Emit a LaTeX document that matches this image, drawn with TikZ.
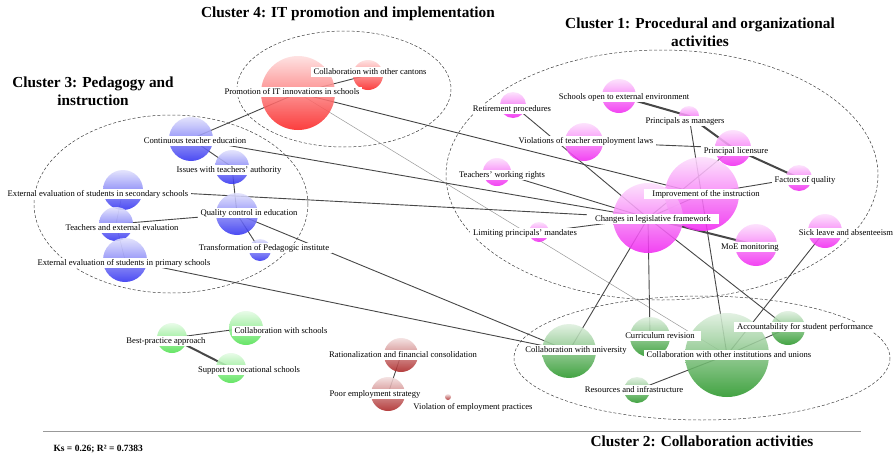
\documentclass[tikz,border=0pt]{standalone}
\usepackage{fontspec}
\setmainfont{Liberation Serif}
\usetikzlibrary{backgrounds}
\newcommand{\lblfont}{\fontsize{8.6}{10}\selectfont}
\newcommand{\ttlfont}{\fontsize{15.3}{18}\selectfont\bfseries}
\definecolor{pinkc}{RGB}{240,40,240}
\definecolor{bluec}{RGB}{50,50,240}
\definecolor{redc}{RGB}{250,35,35}
\definecolor{greenc}{RGB}{40,150,40}
\definecolor{lgreenc}{RGB}{80,225,80}
\definecolor{brownc}{RGB}{170,35,35}

\begin{document}
\begin{tikzpicture}[x=1pt, y=-1pt,
    ball/.style={circle, inner sep=0pt, fill opacity=0.88, shading=axis, shading angle=45,
      top color=#1!15!white, bottom color=#1},
    lbl/.style={fill=white, inner xsep=3pt, inner ysep=1pt, text height=6.5pt, text depth=1.8pt, font=\lblfont},
    ttl/.style={font=\ttlfont, align=center},
    link/.style={draw=black!72, line width=0.9pt},
    heavylink/.style={draw=black!72, line width=2pt},
    faintlink/.style={draw=black!40, line width=0.5pt},
    cluster/.style={draw=black!75, densely dashed, line width=0.5pt}]
  \useasboundingbox (0,0) rectangle (895,453);

  % cluster 4
  \node (promo) at (298,93) [ball=redc, minimum size=74pt] {};
  \node (cantons) at (368,75) [ball=redc, minimum size=30pt] {};
  % cluster 3
  \node (conted) at (191,139) [ball=bluec, minimum size=44pt] {};
  \node (issues) at (232,167) [ball=bluec, minimum size=34pt] {};
  \node (extsec) at (123,190) [ball=bluec, minimum size=40pt] {};
  \node (qual) at (237,214) [ball=bluec, minimum size=42pt] {};
  \node (texteval) at (116,224) [ball=bluec, minimum size=34pt] {};
  \node (transf) at (260,250) [ball=bluec, minimum size=22pt] {};
  \node (extprim) at (125,260) [ball=bluec, minimum size=44pt] {};
  % cluster 1
  \node (retire) at (513,105) [ball=pinkc, minimum size=26pt] {};
  \node (schopen) at (619,96) [ball=pinkc, minimum size=34pt] {};
  \node (princmgr) at (689,116) [ball=pinkc, minimum size=20pt] {};
  \node (viol) at (584,142) [ball=pinkc, minimum size=38pt] {};
  \node (licens) at (733,148) [ball=pinkc, minimum size=36pt] {};
  \node (rights) at (497,172) [ball=pinkc, minimum size=28pt] {};
  \node (factors) at (799,178) [ball=pinkc, minimum size=26pt] {};
  \node (improve) at (702,194) [ball=pinkc, minimum size=74pt] {};
  \node (changes) at (648,218) [ball=pinkc, minimum size=70pt] {};
  \node (limit) at (539,232) [ball=pinkc, minimum size=20pt] {};
  \node (moe) at (756,245) [ball=pinkc, minimum size=42pt] {};
  \node (sick) at (825,231) [ball=pinkc, minimum size=34pt] {};
  % cluster 2
  \node (univ) at (569,351) [ball=greenc, minimum size=54pt] {};
  \node (curric) at (650,337) [ball=greenc, minimum size=40pt] {};
  \node (collinst) at (727,355) [ball=greenc, minimum size=84pt] {};
  \node (account) at (788,328) [ball=greenc, minimum size=34pt] {};
  \node (resource) at (637,390) [ball=greenc, minimum size=26pt] {};
  % outside the clusters
  \node (bestpr) at (172,338) [ball=lgreenc, minimum size=30pt] {};
  \node (collsch) at (246,328) [ball=lgreenc, minimum size=34pt] {};
  \node (vocat) at (231,368) [ball=lgreenc, minimum size=30pt] {};
  \node (ration) at (401,355) [ball=brownc, minimum size=34pt] {};
  \node (poor) at (388,394) [ball=brownc, minimum size=34pt] {};
  \node (violemp) at (448,397) [ball=brownc, minimum size=6pt] {};

  \begin{scope}[on background layer]
    \draw[cluster] (344,89) ellipse (107 and 58);
    \draw[cluster] (171,204) ellipse (137 and 89);
    \draw[cluster] (662,175) ellipse (216 and 125);
    \draw[cluster] (702,358) ellipse (188 and 62);

    \draw[link] (promo.center) to (cantons.center);
    \draw[link] (conted.center) to (promo.center) to (improve.center);
    \draw[faintlink] (promo.center) to (collinst.center);

    \draw[link] (conted.center) to (issues.center) to (qual.center) to (transf.center);
    \draw[link] (texteval.center) to (qual.center) to (univ.center);
    \draw[faintlink] (extsec.center) to (texteval.center) to (extprim.center);
    \draw[link] (conted.center) to (changes.center);
    \draw[link] (extsec.center) to (changes.center);
    \draw[link] (extprim.center) to (univ.center);

    \draw[heavylink] (schopen.center) to (princmgr.center) to (licens.center) to (factors.center);
    \draw[link] (princmgr.center) to (collinst.center);
    \draw[link] (viol.center) to (licens.center) to (changes.center);
    \draw[link] (retire.center) to (changes.center);
    \draw[link] (rights.center) to (changes.center);
    \draw[link] (limit.center) to (changes.center);
    \draw[heavylink] (changes.center) to (moe.center);
    \draw[link] (changes.center) to (improve.center) to (factors.center);
    \draw[link] (changes.center) to (curric.center);
    \draw[link] (changes.center) to (univ.center);
    \draw[link] (changes.center) to (account.center) to (collinst.center);
    \draw[link] (sick.center) to (collinst.center);
    \draw[link] (resource.center) to (collinst.center);

    \draw[heavylink] (bestpr.center) to (vocat.center);
    \draw[link] (bestpr.center) to (collsch.center);
    \draw[link] (ration.center) to (poor.center);
  \end{scope}

  \node (promo-l) at (292,92) [lbl] {Promotion of IT innovations in schools};
  \node (cantons-l) at (370,72) [lbl] {Collaboration with other cantons};
  \node (conted-l) at (195,141) [lbl] {Continuous teacher education};
  \node (issues-l) at (229,170) [lbl] {Issues with teachers' authority};
  \node (extsec-l) at (98,194) [lbl] {External evaluation of students in secondary schools};
  \node (qual-l) at (249,213) [lbl] {Quality control in education};
  \node (texteval-l) at (122,228) [lbl] {Teachers and external evaluation};
  \node (transf-l) at (264,248) [lbl] {Transformation of Pedagogic institute};
  \node (extprim-l) at (124,263) [lbl] {External evaluation of students in primary schools};
  \node (retire-l) at (512,109) [lbl] {Retirement procedures};
  \node (schopen-l) at (624,97) [lbl] {Schools open to external environment};
  \node (princmgr-l) at (685,121) [lbl] {Principals as managers};
  \node (viol-l) at (586,141) [lbl] {Violations of teacher employment laws};
  \node (licens-l) at (736,151) [lbl] {Principal licensure};
  \node (rights-l) at (502,175) [lbl] {Teachers' working rights};
  \node (factors-l) at (805,180) [lbl] {Factors of quality};
  \node (improve-l) at (706,194) [lbl, inner xsep=8pt] {Improvement of the instruction};
  \node (changes-l) at (653,219) [lbl, inner xsep=8pt] {Changes in legislative framework};
  \node (limit-l) at (525,233) [lbl] {Limiting principals' mandates};
  \node (moe-l) at (750,247) [lbl] {MoE monitoring};
  \node (sick-l) at (846,233) [lbl] {Sick leave and absenteeism};
  \node (univ-l) at (576,350) [lbl] {Collaboration with university};
  \node (curric-l) at (660,336) [lbl, inner xsep=6pt] {Curriculum revision};
  \node (collinst-l) at (729,355) [lbl] {Collaboration with other institutions and unions};
  \node (account-l) at (805,327) [lbl] {Accountability for student performance};
  \node (resource-l) at (634,390) [lbl] {Resources and infrastructure};
  \node (bestpr-l) at (166,341) [lbl] {Best-practice approach};
  \node (collsch-l) at (281,331) [lbl] {Collaboration with schools};
  \node (vocat-l) at (249,370) [lbl] {Support to vocational schools};
  \node (ration-l) at (403,355) [lbl] {Rationalization and financial consolidation};
  \node (poor-l) at (375,394) [lbl] {Poor employment strategy};
  \node (violemp-l) at (473,407) [lbl] {Violation of employment practices};

  \node (t4) at (348,14) [ttl] {Cluster 4: IT promotion and implementation};
  \node (t1) at (700,32) [ttl] {Cluster 1: Procedural and organizational\\activities};
  \node (t3) at (93,91) [ttl] {Cluster 3: Pedagogy and\\instruction};
  \node (t2) at (702,441) [ttl] {Cluster 2: Collaboration activities};
  \draw[black!40, line width=0.8pt] (43,431) -- (861,431);
  \node (fit) at (50,449) [anchor=west, font=\fontsize{9.5}{11}\selectfont\bfseries] {Ks = 0.26; R² = 0.7383};
\end{tikzpicture}
\end{document}
